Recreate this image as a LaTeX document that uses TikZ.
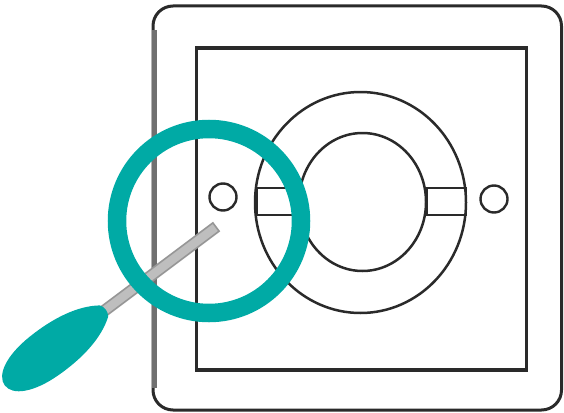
\documentclass[tikz,border=0pt]{standalone}
\begin{document}
\definecolor{ink}{RGB}{42,42,42}
\definecolor{rimgray}{RGB}{112,112,112}
\definecolor{teal1}{RGB}{0,170,165}
\definecolor{rodfill}{RGB}{190,190,190}
\definecolor{rodedge}{RGB}{150,150,150}
\begin{tikzpicture}[x=1pt,y=-1pt,
  outline/.style={draw=ink,line width=2.6pt},
  hole/.style={draw=ink,line width=2.4pt,fill=white},
  ringstyle/.style={draw=teal1,line width=18.5pt},
]
\useasboundingbox (0,0) rectangle (564,412);
% wall plate
\draw[outline,line width=3pt,rounded corners=20pt] (153,6) rectangle (561.5,410);
\draw[rimgray,line width=5pt] (154,30) -- (154,388);
% inner frame
\node[outline,line width=3.3pt,minimum width=330pt,minimum height=322pt,inner sep=0pt] (frame) at (361.5,209) {};
% outer and inner rings of the fitting
\draw[outline,line width=2.5pt] (360.5,202.5) ellipse [x radius=105.5pt,y radius=110.5pt];
\draw[outline,line width=2.5pt] (362.5,202) ellipse [x radius=63.5pt,y radius=69pt];
% locking tabs
\draw[outline,line width=2.5pt] (257,188) rectangle (299,215);
\draw[outline,line width=2.5pt] (427,188) rectangle (466,215);
% screw holes
\node[hole,circle,minimum size=27pt,inner sep=0pt] (lhole) at (223,197) {};
\node[hole,circle,minimum size=27pt,inner sep=0pt] (rhole) at (494,199) {};
% screwdriver shaft
\begin{scope}[shift={(104,311)},rotate=36.87]
  \draw[draw=rodedge,fill=rodfill,line width=1.6pt] (-2,-5.2) rectangle (140,5.2);
\end{scope}
% magnifier ring
\node[ringstyle,circle,minimum size=184pt,inner sep=0pt] (lens) at (209,221) {};
% screwdriver handle
\begin{scope}[shift={(104,311)},rotate=216.87]
  \fill[teal1] (0,7) .. controls (18,20) and (45,25) .. (75,24)
    .. controls (105,23) and (124,13) .. (124,0)
    .. controls (124,-13) and (105,-23) .. (75,-24)
    .. controls (45,-25) and (18,-20) .. (0,-7)
    .. controls (-3,-3) and (-3,3) .. (0,7) -- cycle;
\end{scope}
\end{tikzpicture}
\end{document}
